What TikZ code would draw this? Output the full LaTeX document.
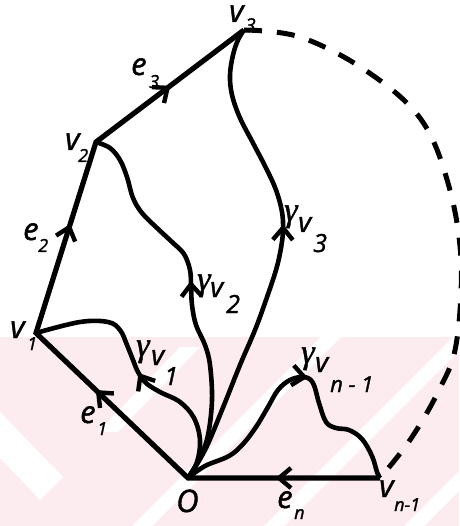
\documentclass[tikz,border=0pt]{standalone}
\usepackage{fontspec}
\setmainfont{Open Sans}[FakeBold=1.4]
\newfontfamily\gfont{Liberation Serif}[FakeBold=1.2]
\usetikzlibrary{decorations.markings}
\definecolor{bgpink}{RGB}{253,236,239}
\newcommand{\subf}[1]{{\fontsize{18}{18}\selectfont\itshape #1}}
\newcommand{\subg}[1]{{\fontsize{25}{25}\selectfont\itshape #1}}
\newcommand{\gam}{{\gfont\fontsize{34}{34}\selectfont γ}}
\newcommand{\chevron}{\draw[line width=4.4pt, line cap=butt, line join=miter] (-12pt,-10pt) -- (0pt,0pt) -- (-12pt,10pt);}
\tikzset{
  edge/.style={line width=5.2pt, line join=miter},
  gpath/.style={line width=4.6pt, line join=round},
  midarrow/.style={postaction={decorate,decoration={markings,mark=at position #1 with {\chevron}}}},
  lbl/.style={anchor=base west, inner sep=0pt, font=\fontsize{31}{31}\selectfont\itshape},
  glbl/.style={anchor=base west, inner sep=0pt, font=\fontsize{28}{28}\selectfont\itshape},
}
\begin{document}
\begin{tikzpicture}[x=1pt,y=-1pt]
\useasboundingbox (0,0) rectangle (459,526);
% faint background band
\begin{scope}
  \clip (0,337) rectangle (459,526);
  \fill[bgpink] (0,337) rectangle (459,526);
  \fill[white] (0,412) -- (63,477) -- (40,500) -- (0,458) -- cycle;
  \fill[white] (180,347) -- (200,347) -- (118,432) -- (98,432) -- cycle;
  \foreach \s in {668,800,940} {
    \fill[white] ({\s-10-337},337) -- ({\s+10-337},337) -- ({\s+10-526},526) -- ({\s-10-526},526) -- cycle;
  }
\end{scope}
% vertices
\coordinate (O) at (188,478);
\coordinate (v1) at (36,333);
\coordinate (v2) at (96,142);
\coordinate (v3) at (244,30);
\coordinate (vn) at (380,478);
% polygon edges e_n, e_1, e_2, e_3
\draw[edge, postaction={decorate,decoration={markings,
    mark=at position 101pt with {\chevron},
    mark=at position 316pt with {\chevron},
    mark=at position 513pt with {\chevron},
    mark=at position 692pt with {\chevron}}}]
  (vn) -- (O) -- (v1) -- (v2) -- (v3);
% dashed arc
\draw[line width=5pt, dash pattern=on 18pt off 15pt]
  plot[smooth, tension=0.6] coordinates {(v3) (300,37) (365,70) (420,118) (448,183) (461,260) (456,345) (438,392) (410,440) (vn)};
% gamma paths
\draw[gpath, midarrow=0.49] plot[smooth, tension=0.6] coordinates {(O) (197,462) (200,440) (194,418) (180,402) (160,392) (146,383) (138,372) (133,360) (127,345) (120,330) (108,322) (80,322) (v1)};
\draw[gpath, midarrow=0.53] plot[smooth, tension=0.6] coordinates {(O) (200,458) (208,435) (212,400) (210,365) (205,345) (196,325) (192,305) (191,285) (190,270) (184,254) (172,242) (157,228) (142,213) (133,198) (127,177) (120,160) (110,148) (v2)};
\draw[gpath, midarrow=0.56] plot[smooth, tension=0.6] coordinates {(O) (205,450) (222,410) (240,365) (255,330) (266,300) (276,270) (281,248) (283,230) (282,212) (276,190) (266,168) (253,143) (240,118) (232,95) (230,75) (233,55) (238,40) (v3)};
\draw[gpath, midarrow=0.54] plot[smooth, tension=0.6] coordinates {(O) (205,466) (229,456) (243,444) (256,427) (268,407) (278,390) (290,380) (304,377) (313,383) (319,403) (326,422) (336,428) (349,430) (362,439) (372,456) (377,472) (vn)};
% vertex labels
\node[lbl] (lv3) at (229,22) {\rlap{v}\hspace*{16pt}\raisebox{-10pt}{\fontsize{19}{19}\selectfont 3}};
\node[lbl] (lv2) at (65,150) {\rlap{v}\hspace*{13pt}\raisebox{-12pt}{\subf{2}}};
\node[lbl] (lv1) at (10,338) {\rlap{v}\hspace*{17pt}\raisebox{-12pt}{\subf{1}}};
\node[lbl] (lO) at (176,512) {O};
\node[lbl] (lvn) at (379,497) {\rlap{v}\hspace*{15pt}\raisebox{-14pt}{\subf{n-1}}};
% edge labels
\node[lbl] (le1) at (80,423) {\rlap{e}\hspace*{17pt}\raisebox{-12pt}{\subf{1}}};
\node[lbl] (le2) at (23,240) {\rlap{e}\hspace*{15pt}\raisebox{-12pt}{\subf{2}}};
\node[lbl] (le3) at (131,75) {\rlap{e}\hspace*{18pt}\raisebox{-13pt}{\subf{3}}};
\node[lbl] (len) at (277,508) {\rlap{e}\hspace*{17pt}\raisebox{-11pt}{\subf{n}}};
% gamma labels
\node[glbl] (lg1) at (136,365) {\rlap{\raisebox{9pt}{\gam}}\hspace*{15pt}\rlap{v}\hspace*{13pt}\raisebox{-20pt}{\subg{1}}};
\node[glbl] (lg2) at (197,297) {\rlap{\raisebox{7pt}{\gam}}\hspace*{13pt}\rlap{v}\hspace*{16pt}\raisebox{-16pt}{\subg{2}}};
\node[glbl] (lg3) at (284,232) {\rlap{\raisebox{11pt}{\gam}}\hspace*{14pt}\rlap{v}\hspace*{15pt}\raisebox{-20pt}{\subg{3}}};
\node[glbl] (lgn) at (301,372) {\rlap{\raisebox{9pt}{\gam}}\hspace*{14pt}\rlap{v}\hspace*{15pt}\raisebox{-20pt}{{\fontsize{22}{22}\selectfont\itshape n - 1}}};
\end{tikzpicture}
\end{document}
